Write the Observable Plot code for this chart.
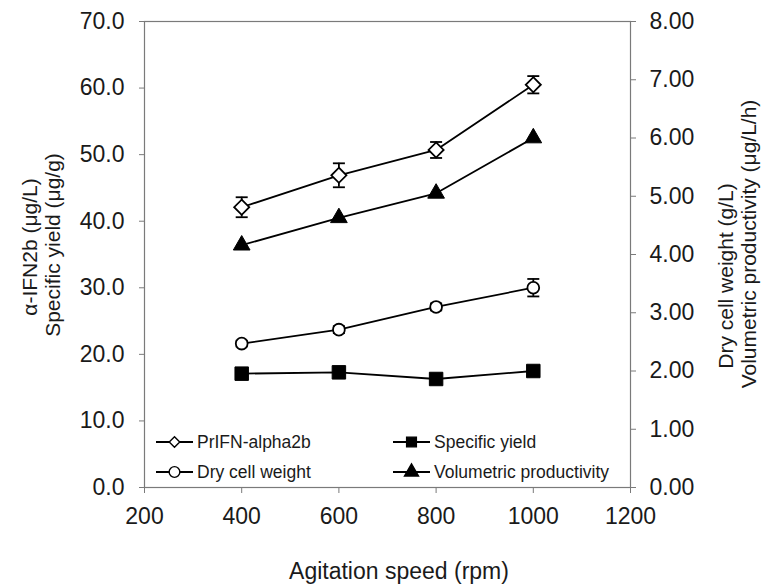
<!DOCTYPE html>
<html><head><meta charset="utf-8">
<script src="https://cdn.jsdelivr.net/npm/d3@7"></script>
<script src="https://cdn.jsdelivr.net/npm/@observablehq/plot@0.6"></script>
<style>
html,body{margin:0;padding:0;background:#fff;}
#chart{position:relative;width:768px;height:586px;}
</style></head><body><div id="chart"></div>
<script>
// ---- data ----
const speeds = [400, 600, 800, 1000];
const ifnValues = [42.1, 46.9, 50.7, 60.5];        // left axis, µg/L
const ifnErrors = [1.5, 1.8, 1.2, 1.3];
const specificYield = [17.1, 17.3, 16.3, 17.5];    // left axis, µg/g
const dryCellWeight = [2.47, 2.71, 3.10, 3.43];    // right axis, g/L
const dcwErrors = [0.05, 0.06, 0.06, 0.15];
const volProductivity = [4.16, 4.63, 5.05, 6.00];  // right axis, µg/L/h
const leftTicks = [0, 10, 20, 30, 40, 50, 60, 70];
const rightTicks = [0, 1, 2, 3, 4, 5, 6, 7, 8];
const xTicks = [200, 400, 600, 800, 1000, 1200];
const legendLabels = ["PrIFN-alpha2b", "Specific yield", "Dry cell weight", "Volumetric productivity"];

// right axis (0–8) mapped onto left axis (0–70)
const k = 70 / 8;
const rows = speeds.map((s, i) => ({
  speed: s,
  ifn: ifnValues[i], ifnErr: ifnErrors[i],
  sy: specificYield[i],
  dcw: dryCellWeight[i] * k, dcwErr: dcwErrors[i] * k,
  vp: volProductivity[i] * k
}));

const cap = {draw(ctx, size) { const w = Math.sqrt(size / Math.PI); ctx.moveTo(-w, 0); ctx.lineTo(w, 0); }};
const font = "'Liberation Sans', Arial, Helvetica, sans-serif";
const axisGray = "#7a7a7a";
const ink = "#1a1a1a";
const sw = 1.8;

const plot = Plot.plot({
  width: 768, height: 586,
  marginLeft: 144, marginRight: 138, marginTop: 21, marginBottom: 99,
  style: {fontFamily: font, background: "#fff", overflow: "visible"},
  x: {domain: [200, 1200]},
  y: {domain: [0, 70]},
  marks: [
    Plot.frame({stroke: axisGray, strokeWidth: 1.2}),
    Plot.axisX({ticks: xTicks, tickFormat: d => String(d), tickSize: 6, tickPadding: 14, fontSize: 23, stroke: axisGray, fill: ink, label: null}),
    Plot.axisY({anchor: "left", ticks: leftTicks, tickFormat: d => d.toFixed(1), tickSize: 5, tickPadding: 15, fontSize: 23, stroke: axisGray, fill: ink, label: null}),
    Plot.axisY({anchor: "right", ticks: rightTicks.map(v => v * k), tickFormat: d => (d / k).toFixed(2), tickSize: 5, tickPadding: 14, fontSize: 23, stroke: axisGray, fill: ink, label: null}),
    // lines
    Plot.line(rows, {x: "speed", y: "ifn", stroke: "#000", strokeWidth: sw}),
    Plot.line(rows, {x: "speed", y: "vp", stroke: "#000", strokeWidth: sw}),
    Plot.line(rows, {x: "speed", y: "dcw", stroke: "#000", strokeWidth: sw}),
    Plot.line(rows, {x: "speed", y: "sy", stroke: "#000", strokeWidth: sw}),
    // error bars
    Plot.ruleX(rows, {x: "speed", y1: d => d.ifn - d.ifnErr, y2: d => d.ifn + d.ifnErr, stroke: "#000", strokeWidth: sw}),
    Plot.dot(rows, {x: "speed", y: d => d.ifn + d.ifnErr, symbol: cap, r: 6, stroke: "#000", strokeWidth: sw}),
    Plot.dot(rows, {x: "speed", y: d => d.ifn - d.ifnErr, symbol: cap, r: 6, stroke: "#000", strokeWidth: sw}),
    Plot.ruleX(rows, {x: "speed", y1: d => d.dcw - d.dcwErr, y2: d => d.dcw + d.dcwErr, stroke: "#000", strokeWidth: sw}),
    Plot.dot(rows, {x: "speed", y: d => d.dcw + d.dcwErr, symbol: cap, r: 6, stroke: "#000", strokeWidth: sw}),
    Plot.dot(rows, {x: "speed", y: d => d.dcw - d.dcwErr, symbol: cap, r: 6, stroke: "#000", strokeWidth: sw}),
    // markers
    Plot.dot(rows, {x: "speed", y: "ifn", symbol: "diamond2", r: 6.8, fill: "#fff", stroke: "#000", strokeWidth: sw}),
    Plot.dot(rows, {x: "speed", y: "vp", symbol: "triangle", r: 6.2, fill: "#000", stroke: "#000", strokeWidth: 1}),
    Plot.dot(rows, {x: "speed", y: "dcw", symbol: "circle", r: 5.9, fill: "#fff", stroke: "#000", strokeWidth: sw}),
    Plot.dot(rows, {x: "speed", y: "sy", symbol: "square", r: 7.6, fill: "#000", stroke: "#000", strokeWidth: 1})
  ]
});
document.getElementById("chart").appendChild(plot);

const svg = d3.select(plot);
// axis titles
const titles = svg.append("g").attr("font-family", font).attr("font-size", 21).attr("fill", ink).attr("text-anchor", "middle");
titles.append("text").attr("transform", "translate(37,247) rotate(-90)").text("α-IFN2b (μg/L)");
titles.append("text").attr("transform", "translate(60,245) rotate(-90)").text("Specific yield (μg/g)");
titles.append("text").attr("transform", "translate(733,276) rotate(-90)").text("Dry cell weight (g/L)");
titles.append("text").attr("transform", "translate(756,244) rotate(-90)").text("Volumetric productivity (μg/L/h)");
svg.append("text").attr("x", 399).attr("y", 579).attr("font-family", font).attr("font-size", 23).attr("fill", ink)
  .attr("text-anchor", "middle").text("Agitation speed (rpm)");

// legend
const legendSymbols = [d3.symbolDiamond2, d3.symbolSquare, d3.symbolCircle, d3.symbolTriangle];
const legendFills = ["#fff", "#000", "#fff", "#000"];
const legendSizes = [70, 95, 90, 85];
const lg = svg.append("g").attr("font-family", font).attr("font-size", 17.5).attr("fill", ink).attr("text-anchor", "start");
legendLabels.forEach((lab, i) => {
  const col = i % 2, row = Math.floor(i / 2);
  const x0 = col ? 393 : 156, y0 = row ? 472 : 442;
  const g = lg.append("g").attr("transform", `translate(${x0},${y0})`);
  g.append("line").attr("x1", 0).attr("x2", 37).attr("stroke", "#000").attr("stroke-width", sw);
  g.append("path").attr("transform", "translate(18.5,0)").attr("d", d3.symbol(legendSymbols[i], legendSizes[i])())
    .attr("fill", legendFills[i]).attr("stroke", "#000").attr("stroke-width", 1.4);
  g.append("text").attr("x", 41).attr("dy", "0.35em").text(lab);
});
</script></body></html>
